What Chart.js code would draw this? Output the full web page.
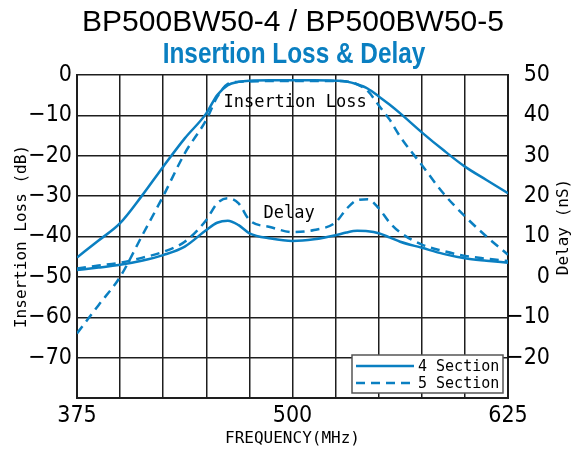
<!DOCTYPE html>
<html>
<head>
<meta charset="utf-8">
<script src="https://cdn.jsdelivr.net/npm/chart.js@4.4.1/dist/chart.umd.min.js"></script>
<style>
  html, body { margin: 0; padding: 0; background: #fff; }
  #wrap { width: 582px; height: 453px; }
</style>
</head>
<body>
<div id="wrap"><canvas id="ilChart" width="582" height="453"></canvas></div>
<script>
// frequency points (MHz)
const freq = [375, 387.5, 400, 412.5, 425, 437.5, 450, 456.25, 462.5, 468.75, 475, 487.5, 500,
              512.5, 525, 531.25, 537.5, 543.75, 550, 556.25, 562.5, 575, 587.5, 600, 612.5, 625];

// insertion loss (dB), left axis
const loss4 = [-45.2, -41, -36.7, -30, -22.7, -15.7, -9.5, -5, -2.5, -1.7, -1.4, -1.3, -1.3,
               -1.3, -1.4, -1.6, -2.3, -3.4, -5.3, -7.3, -9.5, -14.2, -18.6, -22.7, -26, -29.3];
const loss5 = [-64, -57, -50, -40, -30, -19.4, -11.1, -5.5, -2.2, -1.7, -1.6, -1.5, -1.5,
               -1.5, -1.5, -1.6, -2.3, -4, -7.5, -11, -15.3, -22.3, -29.3, -35, -40, -44.5];

// group delay (nS), right axis
const delay4 = [1.7, 2.3, 3.0, 4.0, 5.4, 7.5, 11.6, 13.4, 13.9, 12.8, 10.8, 9.5, 8.9,
                9.3, 10.3, 11.0, 11.4, 11.3, 10.8, 9.8, 8.7, 7.2, 5.7, 4.6, 4.0, 3.5];
const delay5 = [2.1, 2.8, 3.5, 4.7, 6.2, 8.7, 14.1, 18.2, 19.5, 18.2, 14.1, 12.3, 11.1,
                11.6, 13.5, 16.8, 19.0, 19.2, 17.0, 13.5, 11.0, 8.0, 6.4, 5.2, 4.5, 3.9];

const xLabelValues = [375, 500, 625];
const sectionNames = ['4 Section', '5 Section'];
const titleText = 'BP500BW50-4 / BP500BW50-5';
const subtitleText = 'Insertion Loss & Delay';

const BLUE = '#0a7fc1';
const GRID = '#1e1e1e';
const tickFont = "'DejaVu Sans Condensed', 'Liberation Sans', Arial, sans-serif";
const monoFont = "'DejaVu Sans Mono', 'Liberation Mono', monospace";

const toPts = ys => freq.map((f, i) => ({ x: f, y: ys[i] }));
const minus = v => String(v).replace('-', '\u2212');

// titles, legend box, curve notes and the right-hand axis title
const extras = {
    id: 'extras',
    afterDraw(chart) {
        const ctx = chart.ctx;
        const area = chart.chartArea;
        const xs = chart.scales.x, ys = chart.scales.y;

        ctx.save();
        ctx.textAlign = 'center';
        ctx.textBaseline = 'alphabetic';
        ctx.fillStyle = '#000';
        ctx.font = "30px 'Liberation Sans', Arial, sans-serif";
        ctx.fillText(titleText, 293, 31);
        // narrow bold subtitle
        ctx.save();
        ctx.translate(294, 63);
        ctx.scale(0.84, 1);
        ctx.fillStyle = BLUE;
        ctx.font = "bold 29px 'Liberation Sans', Arial, sans-serif";
        ctx.fillText(subtitleText, 0, 0);
        ctx.restore();

        ctx.fillStyle = '#000';
        ctx.font = '17px ' + monoFont;
        ctx.textBaseline = 'middle';
        ctx.fillText('Insertion Loss', xs.getPixelForValue(501.5), ys.getPixelForValue(-6.8));
        ctx.fillText('Delay', xs.getPixelForValue(498), ys.getPixelForValue(-34.3));

        // right axis title
        ctx.translate(564, 227);
        ctx.rotate(-Math.PI / 2);
        ctx.font = '16px ' + monoFont;
        ctx.fillText('Delay (nS)', 0, 0);
        ctx.restore();

        // legend
        const bw = 151, bh = 38;
        const bx = area.right - 5 - bw, by = area.bottom - 5 - bh;
        ctx.save();
        ctx.fillStyle = '#fff';
        ctx.fillRect(bx, by, bw, bh);
        ctx.strokeStyle = '#555';
        ctx.lineWidth = 1.5;
        ctx.strokeRect(bx, by, bw, bh);
        chart.data.datasets.slice(0, 2).forEach((ds, i) => {
            const ly = by + 11 + i * 17;
            ctx.beginPath();
            ctx.setLineDash(ds.borderDash || []);
            ctx.strokeStyle = ds.borderColor;
            ctx.lineWidth = ds.borderWidth;
            ctx.moveTo(bx + 4, ly);
            ctx.lineTo(bx + 62, ly);
            ctx.stroke();
            ctx.setLineDash([]);
            ctx.fillStyle = '#000';
            ctx.font = '15px ' + monoFont;
            ctx.textAlign = 'left';
            ctx.textBaseline = 'middle';
            ctx.fillText(sectionNames[i], bx + 66, ly + 1);
        });
        ctx.restore();
    }
};

const lineStyle = (dash) => ({
    borderColor: BLUE,
    borderWidth: 2.5,
    borderDash: dash,
    pointRadius: 0,
    fill: false,
    cubicInterpolationMode: 'monotone'
});

new Chart(document.getElementById('ilChart'), {
    type: 'line',
    data: {
        datasets: [
            { label: sectionNames[0], data: toPts(loss4), yAxisID: 'y', ...lineStyle([]) },
            { label: sectionNames[1], data: toPts(loss5), yAxisID: 'y', ...lineStyle([9, 6]) },
            { label: sectionNames[0] + ' delay', data: toPts(delay4), yAxisID: 'y1', ...lineStyle([]) },
            { label: sectionNames[1] + ' delay', data: toPts(delay5), yAxisID: 'y1', ...lineStyle([9, 6]) }
        ]
    },
    options: {
        responsive: false,
        animation: false,
        layout: { padding: { left: 0, right: 32, top: 75, bottom: 0 } },
        plugins: {
            legend: { display: false },
            tooltip: { enabled: false }
        },
        scales: {
            x: {
                type: 'linear',
                min: 375,
                max: 625,
                ticks: {
                    stepSize: 25,
                    autoSkip: false,
                    maxRotation: 0,
                    padding: 7,
                    color: '#000',
                    font: { family: tickFont, size: 23, lineHeight: 1.0 },
                    callback: v => xLabelValues.includes(v) ? String(v) : ''
                },
                grid: { color: GRID, lineWidth: 1.5, drawTicks: false },
                border: { color: GRID, width: 2 },
                title: {
                    display: true,
                    text: 'FREQUENCY(MHz)',
                    color: '#000',
                    font: { family: monoFont, size: 16, lineHeight: 1.2 },
                    padding: { top: 0, bottom: 5 }
                },
                afterFit: s => { s.height = 55; }
            },
            y: {
                position: 'left',
                min: -80,
                max: 0,
                ticks: {
                    stepSize: 10,
                    padding: 5,
                    color: '#000',
                    font: { family: tickFont, size: 23, lineHeight: 1.0 },
                    callback: v => v === -80 ? '' : minus(v)
                },
                grid: { color: GRID, lineWidth: 1.5, drawTicks: false },
                border: { color: GRID, width: 2 },
                title: {
                    display: true,
                    text: 'Insertion Loss (dB)',
                    color: '#000',
                    font: { family: monoFont, size: 16, lineHeight: 1.2 },
                    padding: { top: 12, bottom: 0 }
                },
                afterFit: s => { s.width = 77; }
            },
            y1: {
                position: 'right',
                min: -30,
                max: 50,
                ticks: {
                    stepSize: 10,
                    padding: 8,
                    crossAlign: 'far',
                    color: '#000',
                    font: { family: tickFont, size: 23, lineHeight: 1.0 },
                    callback: v => v === -30 ? '' : minus(v)
                },
                grid: { drawOnChartArea: false, drawTicks: false },
                border: { color: GRID, width: 2 },
                afterFit: s => { s.width = 42; }
            }
        }
    },
    plugins: [extras]
});
</script>
</body>
</html>
